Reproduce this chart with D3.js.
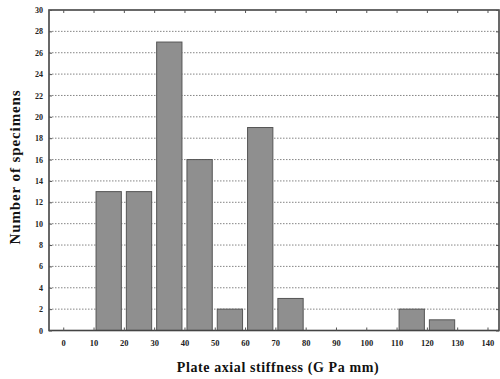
<!DOCTYPE html>
<html><head><meta charset="utf-8">
<script src="https://cdn.jsdelivr.net/npm/d3@7"></script>
<style>body{margin:0;background:#fff}svg{display:block}text{font-family:"Liberation Serif","DejaVu Serif",serif;font-weight:bold}</style>
</head><body><svg id="c" width="500" height="379"></svg>
<script>
const binStarts = [0,10,20,30,40,50,60,70,80,90,100,110,120,130];
const counts    = [0,13,13,27,16,2,19,3,0,0,0,2,1,0];
const xTicks = [0,10,20,30,40,50,60,70,80,90,100,110,120,130,140];
const yTicks = d3.range(0,31,2);

const svg = d3.select("#c");
const L=49, R=499, T=10, B=330.5;
const x = d3.scaleLinear().domain([-4.7,143.8]).range([L,R]);
const y = d3.scaleLinear().domain([0,30]).range([B,T]);

// grid
svg.append("g").selectAll("line").data(yTicks.filter(d=>d>0&&d<30)).join("line")
  .attr("x1",L).attr("x2",R).attr("y1",d=>y(d)).attr("y2",d=>y(d))
  .attr("stroke","#777").attr("stroke-width",0.9).attr("stroke-dasharray","1.5,1.5");

// bars
svg.append("g").selectAll("rect").data(binStarts.map((b,i)=>({b,c:counts[i]})).filter(d=>d.c>0)).join("rect")
  .attr("x",d=>x(d.b)+2.5).attr("width",d=>x(d.b+10)-x(d.b)-5)
  .attr("y",d=>y(d.c)).attr("height",d=>B-y(d.c))
  .attr("fill","#8f8f8f").attr("stroke","#555").attr("stroke-width",1);

// frame
svg.append("rect").attr("x",L).attr("y",T).attr("width",R-L).attr("height",B-T)
  .attr("fill","none").attr("stroke","#444").attr("stroke-width",1.6);

const ax = svg.append("g").attr("transform",`translate(0,${B})`)
  .call(d3.axisBottom(x).tickValues(xTicks).tickSize(-3).tickPadding(9).tickFormat(d3.format("d")));
ax.select(".domain").remove();
ax.selectAll("line").attr("stroke","#555");
ax.selectAll("text").attr("font-size",8.5).attr("fill","#222");

const axt = svg.append("g").attr("transform",`translate(0,${T})`)
  .call(d3.axisTop(x).tickValues(xTicks).tickSize(-3).tickFormat(""));
axt.select(".domain").remove();
axt.selectAll("line").attr("stroke","#555");

const ay = svg.append("g").attr("transform",`translate(${L},0)`)
  .call(d3.axisLeft(y).tickValues(yTicks).tickSize(-3).tickPadding(6));
ay.select(".domain").remove();
ay.selectAll("line").attr("stroke","#555");
ay.selectAll("text").attr("font-size",8).attr("fill","#222");

const ayr = svg.append("g").attr("transform",`translate(${R},0)`)
  .call(d3.axisRight(y).tickValues(yTicks).tickSize(-3).tickFormat(""));
ayr.select(".domain").remove();
ayr.selectAll("line").attr("stroke","#555");

svg.append("text").attr("x",278).attr("y",372).attr("text-anchor","middle")
  .attr("font-size",14).attr("letter-spacing",0.6).attr("fill","#111").text("Plate axial stiffness (G Pa mm)");
svg.append("text").attr("transform","translate(20,167) rotate(-90)").attr("text-anchor","middle")
  .attr("font-size",15).attr("letter-spacing",0.9).attr("fill","#111").text("Number of specimens");
</script></body></html>
